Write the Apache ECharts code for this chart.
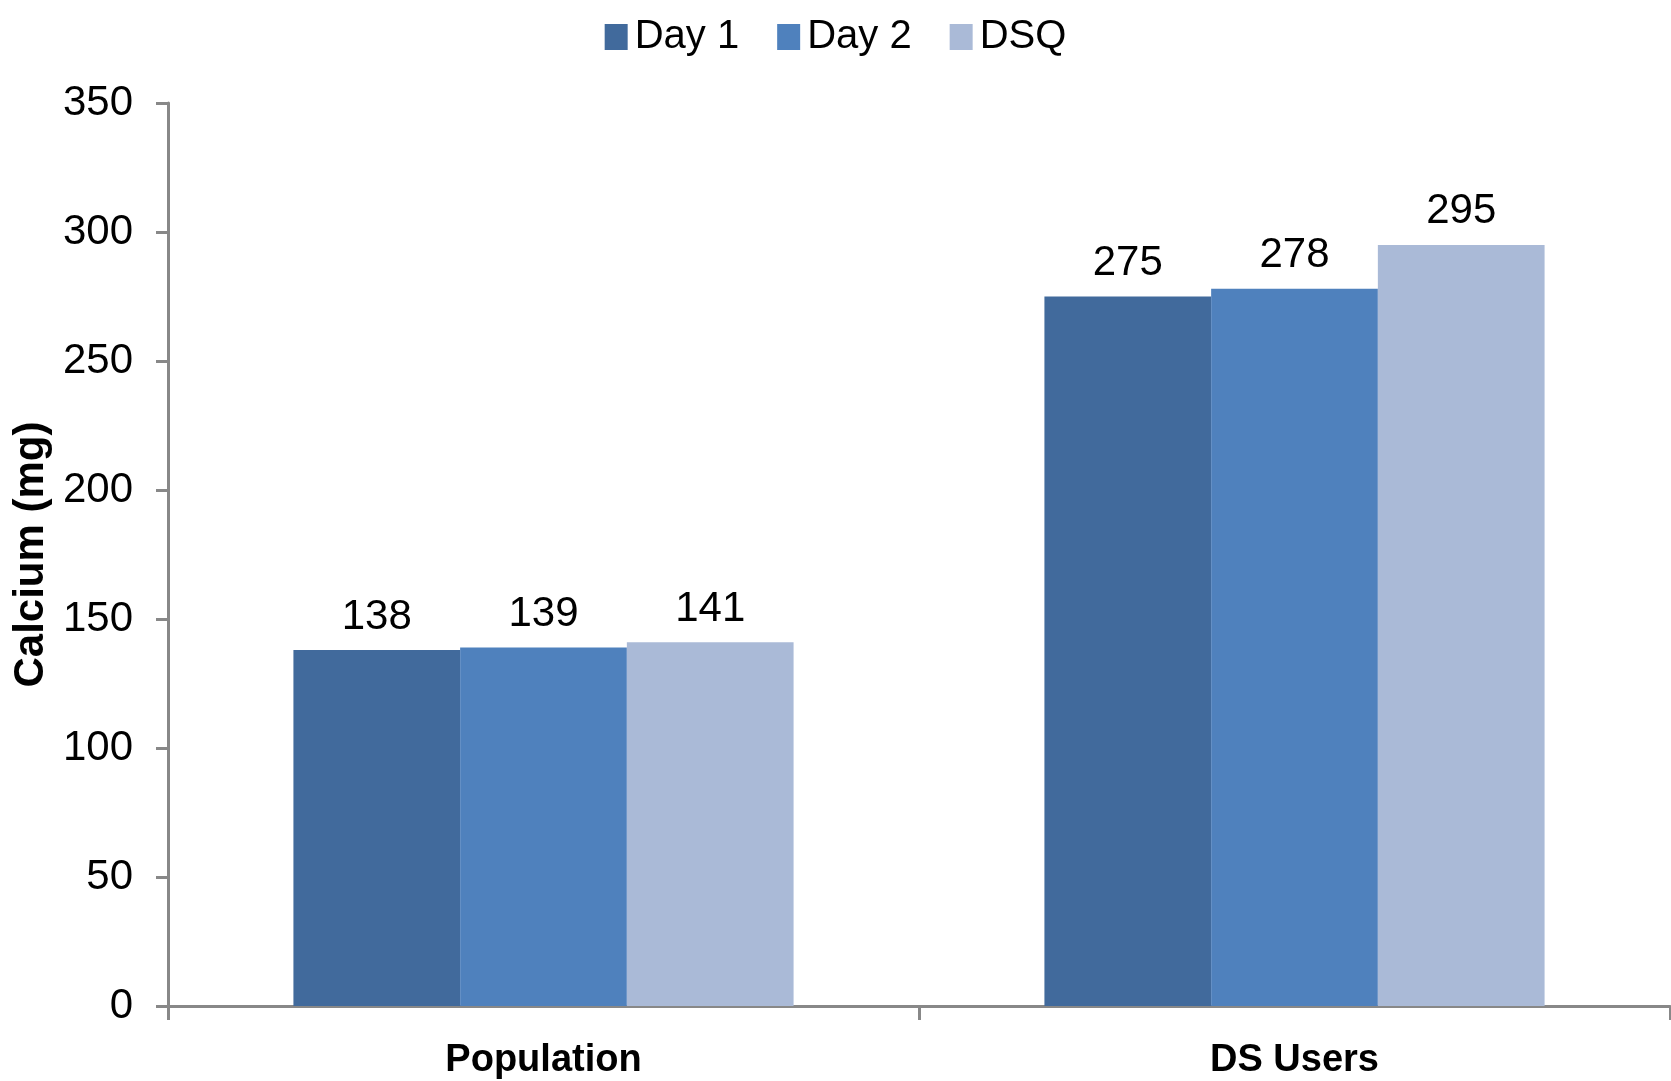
<!DOCTYPE html>
<html>
<head>
<meta charset="utf-8">
<script src="https://cdn.jsdelivr.net/npm/echarts@6/dist/echarts.min.js"></script>
<style>
html,body{margin:0;padding:0;background:#fff;}
#chart{width:1671px;height:1081px;}
</style>
</head>
<body>
<div id="chart"></div>
<script>
var categories = ['Population', 'DS Users'];
var seriesNames = ['Day 1', 'Day 2', 'DSQ'];
var day1 = [138, 275];
var day2 = [139, 278];
var dsq = [141, 295];
var yTicks = [0, 350, 50]; // min, max, interval

var colors = ['#416A9C', '#4F81BD', '#AABAD7'];
var font = '"Liberation Sans", Arial, sans-serif';

function mk(name, data, color) {
  return {
    name: name,
    type: 'bar',
    data: data,
    barGap: '0%',
    barCategoryGap: '33.4%',
    itemStyle: { color: color },
    label: {
      show: true,
      position: 'top',
      distance: 12,
      color: '#000',
      fontFamily: font,
      fontSize: 42
    }
  };
}

var chart = echarts.init(document.getElementById('chart'), null, { renderer: 'canvas' });
chart.setOption({
  animation: false,
  backgroundColor: '#fff',
  legend: {
    data: seriesNames,
    top: 12,
    left: 'center',
    icon: 'rect',
    itemWidth: 23,
    itemHeight: 26,
    itemGap: 38,
    textStyle: { fontFamily: font, fontSize: 40, color: '#000', padding: [0, 0, 0, 2] }
  },
  grid: { left: 168, right: 1, top: 103, bottom: 75, containLabel: false },
  xAxis: {
    type: 'category',
    data: categories,
    axisLine: { lineStyle: { color: '#888', width: 3 } },
    axisTick: { show: true, length: 14, lineStyle: { color: '#888', width: 3 } },
    axisLabel: { margin: 36, color: '#000', fontFamily: font, fontSize: 38, fontWeight: 'bold' },
    splitLine: { show: false }
  },
  yAxis: {
    type: 'value',
    min: yTicks[0],
    max: yTicks[1],
    interval: yTicks[2],
    name: 'Calcium (mg)',
    nameLocation: 'middle',
    nameGap: 116,
    nameTextStyle: { fontFamily: font, fontSize: 42, fontWeight: 'bold', color: '#000' },
    axisLine: { show: true, lineStyle: { color: '#888', width: 3 } },
    axisTick: { show: true, length: 12, lineStyle: { color: '#888', width: 3 } },
    axisLabel: { margin: 35, color: '#000', fontFamily: font, fontSize: 42 },
    splitLine: { show: false }
  },
  series: [
    mk(seriesNames[0], day1, colors[0]),
    mk(seriesNames[1], day2, colors[1]),
    mk(seriesNames[2], dsq, colors[2])
  ]
});
</script>
</body>
</html>
